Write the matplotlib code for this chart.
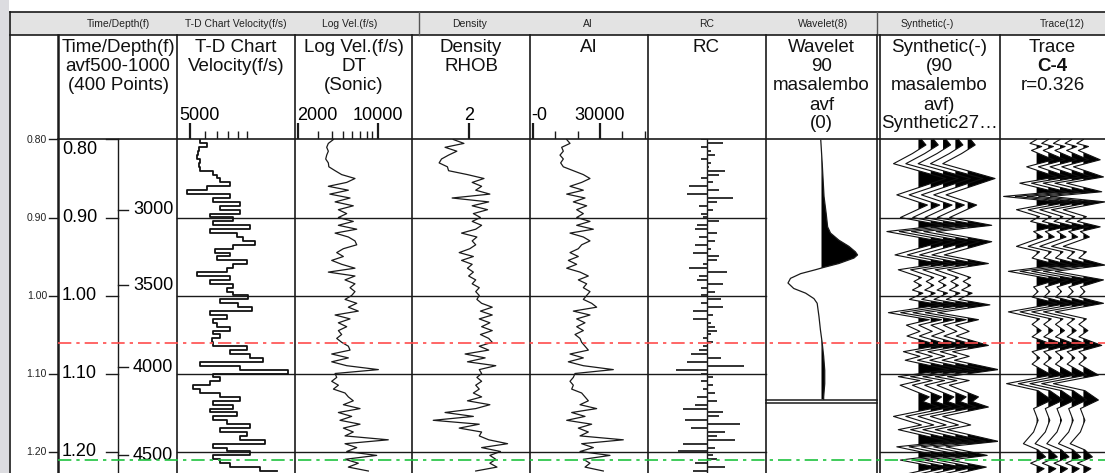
import matplotlib.pyplot as plt
from matplotlib.patches import Rectangle
import numpy as np

plt.rcParams['font.family'] = ['Liberation Sans', 'DejaVu Sans']

# ---------------------------------------------------------------- data
# log curves are sampled every 5 ms from 0.800 s
log_time = np.round(0.800 + 0.005 * np.arange(86), 3)

# interval velocity from the time-depth chart (f/s)
td_velocity = [5650, 6130, 5600, 5540, 5430, 5650, 5600, 5650, 6650, 6930,
               7220, 8160, 6130, 4800, 8160, 6650, 9230, 7220, 9230, 6390,
               8500, 6650, 10420, 6390, 8860, 9610, 11080, 8500, 6790, 8160,
               6930, 10010, 8500, 7840, 5430, 8160, 6390, 8500, 7840, 8500,
               10210, 7220, 9040, 10640, 6390, 7840, 6650, 6930, 8160, 6650,
               7220, 6520, 6650, 10010, 8160, 10420, 12270, 5650, 9230, 16670,
               6650, 7220, 6390, 5210, 5650, 7220, 9230, 6650, 8500, 6390,
               8860, 6650, 7840, 10420, 7220, 10010, 9230, 12530, 6650, 7840,
               10420, 6650, 7220, 8160, 11780, 14450]

# sonic log velocity (f/s)
sonic_velocity = [4090, 3690, 3570, 3690, 3570, 3500, 3690, 3730, 4230, 4830,
                  6320, 5350, 3690, 5530, 3800, 5720, 4230, 6110, 4520, 5350,
                  4520, 6110, 4520, 6550, 4230, 5530, 6320, 6550, 5000, 4370,
                  5000, 3950, 4830, 6320, 3690, 6320, 5170, 6320, 5720, 6320,
                  5910, 5170, 6550, 5530, 6760, 4230, 5720, 4520, 5350, 4520,
                  4830, 4370, 4830, 5530, 5720, 3950, 5530, 3950, 5350, 10140,
                  4230, 4370, 3950, 4520, 4090, 5170, 5530, 6110, 5000, 7000,
                  4520, 5910, 4670, 7000, 5000, 6110, 5170, 12390, 5170, 6550,
                  5350, 9800, 5170, 6760, 5530, 8280]

# bulk density RHOB (g/cc)
density = [1.87, 1.96, 1.80, 1.90, 1.83, 1.77, 1.75, 1.82, 1.83, 1.99,
           2.13, 2.03, 2.11, 2.06, 2.18, 1.86, 2.17, 2.03, 2.16, 2.04,
           2.10, 2.03, 2.11, 2.06, 1.94, 2.07, 2.03, 2.06, 2.01, 1.92,
           2.04, 1.94, 2.03, 1.99, 2.04, 2.00, 2.06, 2.03, 2.09, 2.06,
           2.09, 2.07, 2.11, 2.20, 2.10, 2.20, 2.09, 2.18, 2.11, 2.20,
           2.10, 2.17, 2.20, 2.09, 2.17, 1.97, 2.14, 1.99, 2.23, 2.09,
           2.11, 2.07, 2.11, 2.06, 2.09, 2.04, 2.11, 1.99, 2.18, 2.06,
           1.80, 2.04, 1.70, 2.09, 1.92, 2.11, 2.09, 2.17, 2.33, 2.11,
           2.27, 2.18, 2.23, 2.18, 2.24, 2.06]

# acoustic impedance
acoustic_impedance = [15080, 16570, 12840, 13580, 12090, 13580, 12390, 13580, 18060, 22540,
                      25520, 21790, 16570, 22540, 15080, 23290, 18060, 24030, 19560, 22540,
                      19560, 25520, 19560, 27020, 16570, 22540, 25520, 21790, 20300, 16570,
                      20300, 15820, 19560, 15080, 21050, 24780, 20300, 24030, 22540, 25520,
                      24030, 22540, 26270, 28510, 18060, 25520, 19560, 23290, 19560, 22540,
                      18810, 21050, 21790, 23290, 24780, 16570, 22540, 15820, 22540, 35970,
                      18810, 18060, 16570, 18060, 17320, 21790, 23290, 24780, 21050, 28510,
                      17320, 23290, 15080, 26270, 20300, 24780, 21050, 40450, 21790, 27020,
                      21050, 34480, 22540, 25520, 23290, 31490]

# reflection coefficients
reflectivity = [-0.03, 0.08, -0.03, 0.02, 0.04, -0.03, 0.02, 0.01, 0.09, 0.06,
                -0.03, 0.03, -0.09, 0.06, -0.10, 0.13, 0.05, -0.04, 0.03, -0.03,
                -0.02, 0.06, -0.05, -0.06, 0.05, -0.04, 0.04, -0.06, 0.02, -0.07,
                0.06, 0.05, -0.02, -0.09, 0.10, -0.04, -0.05, 0.08, -0.03, 0.04,
                -0.03, 0.07, -0.03, 0.08, -0.07, 0.03, -0.07, 0.02, 0.04, 0.05,
                0.02, -0.02, 0.03, -0.02, -0.04, -0.08, 0.07, -0.10, 0.19, -0.16,
                -0.03, 0.03, -0.03, 0.03, -0.02, 0.04, -0.05, 0.05, -0.06, -0.12,
                0.08, 0.06, -0.11, 0.17, -0.08, 0.09, 0.05, 0.14, -0.12, 0.04,
                -0.15, 0.03, 0.05, -0.06, 0.09, -0.07]

# 90 degree wavelet
wavelet_time = [0.801, 0.831, 0.873, 0.895, 0.912, 0.920, 0.929, 0.937, 0.944, 0.948,
                0.952, 0.959, 0.964, 0.967, 0.972, 0.978, 0.984, 0.991, 0.997, 1.004,
                1.010, 1.027, 1.044, 1.061, 1.078, 1.096, 1.113, 1.130, 1.133]
wavelet_amp = [-0.02, 0.02, 0.07, 0.13, 0.17, 0.25, 0.48, 0.76, 0.94, 1.00,
               0.90, 0.48, 0.06, -0.17, -0.58, -0.86, -0.93, -0.77, -0.44, -0.21,
               -0.12, -0.07, -0.03, 0.02, 0.06, 0.09, 0.09, 0.06, 0.06]

# synthetic seismogram (peaks and troughs)
synthetic_time = [0.800, 0.807, 0.818, 0.831, 0.850, 0.871, 0.884, 0.900, 0.910, 0.918,
                  0.931, 0.948, 0.959, 0.967, 0.977, 0.982, 0.987, 0.993, 0.997, 1.005,
                  1.012, 1.022, 1.031, 1.038, 1.046, 1.052, 1.064, 1.072, 1.078, 1.083,
                  1.095, 1.104, 1.109, 1.115, 1.130, 1.136, 1.143, 1.155, 1.166, 1.172,
                  1.187, 1.194, 1.205, 1.211, 1.220, 1.228]
synthetic_amp = [0.10, 0.25, -0.20, -0.83, 0.91, -0.72, 0.30, -0.60, 0.80, -1.05,
                 0.80, -0.78, 0.69, -0.67, 0.10, -0.15, 0.10, -0.20, 0.15, -0.30,
                 0.74, -1.00, 0.36, -0.40, 0.05, -0.38, 0.69, -0.50, 0.05, -0.44,
                 1.02, -0.67, 0.05, -0.61, 0.36, 0.15, 0.69, -0.83, 0.10, -0.67,
                 1.02, -0.72, 0.65, -0.60, 0.62, -0.30]

# seismic trace at well C-4
trace_time = [0.800, 0.805, 0.809, 0.814, 0.826, 0.835, 0.848, 0.856, 0.867, 0.873,
              0.880, 0.890, 0.899, 0.905, 0.912, 0.918, 0.925, 0.937, 0.944, 0.952,
              0.961, 0.969, 0.980, 0.989, 0.995, 1.002, 1.010, 1.021, 1.030, 1.037,
              1.045, 1.053, 1.064, 1.072, 1.080, 1.088, 1.102, 1.113, 1.122, 1.134,
              1.145, 1.160, 1.175, 1.190, 1.198, 1.207, 1.215, 1.222, 1.228]
trace_amp = [0.00, -0.22, 0.17, -0.17, 0.56, -0.33, 0.67, -0.56, 0.61, -1.10,
             0.72, -0.67, 0.10, -0.20, 0.56, -0.10, 0.20, -0.67, 0.10, -0.15,
             0.72, -0.94, 0.67, -0.10, 0.05, -0.15, 0.67, -0.94, 0.10, -0.15,
             0.15, -0.15, 0.61, -0.15, 0.10, -0.15, 0.50, -1.00, 0.05, 0.50,
             -0.10, 0.05, -0.10, -0.44, 0.05, 0.30, -0.20, 0.25, 0.00]

time_ticks = [0.80, 0.90, 1.00, 1.10, 1.20]
depth_ticks = [3000, 3500, 4000, 4500]
depth_tick_times = [0.890, 0.987, 1.092, 1.2045]
red_marker_time = 1.061
green_marker_time = 1.211

# ---------------------------------------------------------------- layout
W, H = 1105, 473
Y_TOP = 139.5          # pixel row of the first sample
PX_PER_S = 780.0
T_TOP = 0.80
T_BOT = T_TOP + (H - Y_TOP) / PX_PER_S
LINE = '#1a1a1a'

fig = plt.figure(figsize=(W / 100, H / 100), dpi=100)


def px_axes(x0, x1, y0, y1, z=1):
    ax = fig.add_axes([x0 / W, 1 - y1 / H, (x1 - x0) / W, (y1 - y0) / H], zorder=z)
    ax.set_axis_off()
    return ax


def t2y(t):
    return Y_TOP + (t - T_TOP) * PX_PER_S


def track(x0, x1, xlim, log=False):
    ax = px_axes(x0, x1, Y_TOP, H, 2)
    if log:
        ax.set_xscale('log')
    ax.set_xlim(*xlim)
    ax.set_ylim(T_BOT, T_TOP)
    return ax


def scale_bar(x0, x1, xlim, major, minor, labels, log=False):
    ax = px_axes(x0, x1, 106, Y_TOP, 2)
    if log:
        ax.set_xscale('log')
    ax.set_xlim(*xlim)
    ax.set_ylim(0, Y_TOP - 106)
    ax.vlines(major, 0, 16, color=LINE, lw=1.6)
    ax.vlines(minor, 0, 8, color=LINE, lw=1.0)
    for val, txt, dx, ha in labels:
        ax.annotate(txt, (val, 24), xytext=(dx, 0), textcoords='offset pixels',
                    ha=ha, va='center', fontsize=13)
    return ax


bg = px_axes(0, W, 0, H, 0)
bg.set_xlim(0, W)
bg.set_ylim(H, 0)
fg = px_axes(0, W, 0, H, 5)
fg.set_xlim(0, W)
fg.set_ylim(H, 0)

# frame and header strip
bg.add_patch(Rectangle((0, 0), 9, H, fc='#dcdce0', ec='none'))
bg.add_patch(Rectangle((10, 12), W - 10, 23, fc='#e3e3e3', ec='none'))
bg.plot([10, 10], [12, H], color=LINE, lw=1.2)
bg.plot([10, W], [12, 12], color=LINE, lw=1.2)
bg.plot([10, W], [35, 35], color=LINE, lw=1.2)
for x in (419, 877):
    bg.plot([x, x], [12, 35], color='#555555', lw=1)
bg.plot([58, 58], [35, H], color=LINE, lw=1.8)
for x in (177, 295, 412, 530, 648, 766, 877, 880, 1000):
    bg.plot([x, x], [35, H], color=LINE, lw=1.2)
bg.plot([58, W], [Y_TOP, Y_TOP], color=LINE, lw=1.2)
bg.plot([118, 118], [Y_TOP, H], color=LINE, lw=1)

# horizontal time grid
for t in time_ticks[1:]:
    y = t2y(t)
    bg.plot([177, 766], [y, y], color=LINE, lw=1)
    bg.plot([880, W], [y, y], color=LINE, lw=1)

# header row
header = [('Time/Depth(f)', 118), ('T-D Chart Velocity(f/s)', 236),
          ('Log Vel.(f/s)', 350), ('Density', 470), ('AI', 588), ('RC', 707),
          ('Wavelet(8)', 823), ('Synthetic(-)', 927), ('Trace(12)', 1062)]
for txt, x in header:
    bg.text(x, 24, txt, ha='center', va='center', fontsize=7.5, color='#222222')

# track titles
title_rows = [47, 66.5, 86, 105, 123.5]
titles = [(118, ['Time/Depth(f)', 'avf500-1000', '(400 Points)']),
          (236, ['T-D Chart', 'Velocity(f/s)']),
          (353.5, ['Log Vel.(f/s)', 'DT', '(Sonic)']),
          (471, ['Density', 'RHOB']),
          (589, ['AI']),
          (706.5, ['RC']),
          (821.5, ['Wavelet', '90', 'masalembo', 'avf', '(0)']),
          (939, ['Synthetic(-)', '(90', 'masalembo', 'avf)', 'Synthetic27\u2026']),
          (1052.5, ['Trace', 'C-4', 'r=0.326'])]
for x, lines in titles:
    for y, txt in zip(title_rows, lines):
        bold = txt == 'C-4'
        bg.text(x, y, txt, ha='center', va='center', fontsize=13.5,
                fontweight='bold' if bold else 'normal', color='#111111')

# time / depth annotation
for t in time_ticks:
    y = t2y(t)
    bg.plot([49, 57], [y, y], color=LINE, lw=1)
    bg.text(47, y, f'{t:.2f}', ha='right', va='center', fontsize=7.5, color='#222222')
    bg.plot([106, 118], [y, y], color=LINE, lw=1)
    bg.text(62, max(y, 149), f'{t:.2f}', ha='left', va='center', fontsize=13)
for d, t in zip(depth_ticks, depth_tick_times):
    y = t2y(t)
    bg.plot([118, 128], [y, y], color=LINE, lw=1)
    bg.text(133, y, str(d), ha='left', va='center', fontsize=13)

# T-D chart interval velocity
td_lim = (4266, 18090)
ax = track(177, 295, td_lim, log=True)
ax.plot(td_velocity, log_time, drawstyle='steps-pre', color='#111111', lw=1.3)
scale_bar(177, 295, td_lim, [5000], [6000, 7000, 8000, 9000, 10000],
          [(5000, '5000', -11, 'left')], log=True)

# sonic
dt_lim = (1882, 20000)
ax = track(295, 412, dt_lim, log=True)
ax.plot(sonic_velocity, log_time, color=LINE, lw=0.9)
scale_bar(295, 412, dt_lim, [2000, 10000], [3000, 4000, 5000, 6000, 7000, 8000, 9000],
          [(2000, '2000', -1, 'left'), (10000, '10000', 0, 'center')], log=True)

# density
rho_lim = (1.52, 2.52)
ax = track(412, 530, rho_lim)
ax.plot(density, log_time, color=LINE, lw=0.9)
scale_bar(412, 530, rho_lim, [2.0], [], [(2.0, '2', 0, 'center')])

# acoustic impedance
ai_lim = (-1343, 51500)
ax = track(530, 648, ai_lim)
ax.plot(acoustic_impedance, log_time, color=LINE, lw=0.9)
scale_bar(530, 648, ai_lim, [0, 30000], [10000, 20000, 40000, 50000],
          [(0, '-0', -2, 'left'), (30000, '30000', 0, 'center')])

# reflection coefficients
ax = track(648, 766, (-0.3, 0.3))
ax.axvline(0, color=LINE, lw=1)
ax.hlines(log_time, 0, reflectivity, color='#222222', lw=1.3)

# wavelet
ax = track(766, 877, (-1.54, 1.54))
w_amp = np.array(wavelet_amp)
ax.fill_betweenx(wavelet_time, 0, w_amp, where=w_amp > 0, interpolate=True,
                 color='black', lw=0)
ax.plot(w_amp, wavelet_time, color=LINE, lw=0.9)
for y in (t2y(wavelet_time[-1]) + 0.5, t2y(wavelet_time[-1]) + 3.5):
    bg.plot([766, 877], [y, y], color=LINE, lw=1.1)


def wiggles(ax, times, amps, baselines):
    amps = np.array(amps)
    for b in baselines:
        ax.fill_betweenx(times, b, b + amps, where=amps > 0, interpolate=True,
                         color='black', lw=0)
        ax.plot(b + amps, times, color='#111111', lw=0.8)


# synthetic, five repeated traces
ax = track(880, 998, (0, 3.93))
wiggles(ax, synthetic_time, synthetic_amp, [1.28, 1.69, 2.10, 2.51, 2.92])

# seismic trace at the well
ax = track(1000, W, (0, 3.5))
wiggles(ax, trace_time, trace_amp, [1.22, 1.61, 2.00, 2.39, 2.78])

# horizon markers
fg.plot([58, W], [t2y(red_marker_time)] * 2, color='#ff4d4d', lw=1.2,
        ls=(0, (8, 3, 2, 3)))
fg.plot([58, W], [t2y(green_marker_time)] * 2, color='#1fc23f', lw=1.2,
        ls=(0, (8, 3, 2, 3)))

fig.savefig('out.png', dpi=100)
